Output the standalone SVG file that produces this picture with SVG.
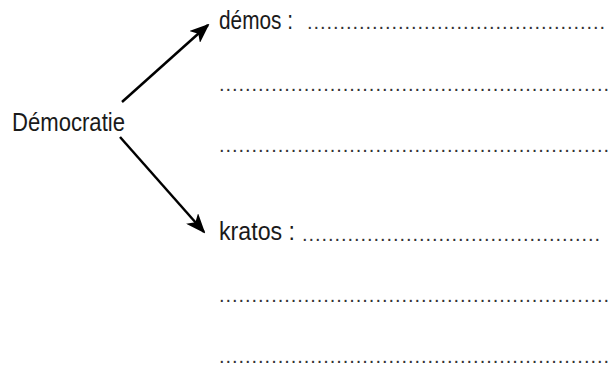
<svg xmlns="http://www.w3.org/2000/svg" width="616" height="367" viewBox="0 0 616 367">
<defs>
<style>
text{font-family:"Liberation Sans",Arial,sans-serif;font-size:26px;fill:#1a1a1a}
.dots{font-size:20px;fill:#333}
.conn line{stroke:#000;stroke-width:2.5}
</style>
<marker id="ah" viewBox="0 0 20 16" refX="18" refY="8" markerWidth="20" markerHeight="16" markerUnits="userSpaceOnUse" orient="auto">
<path d="M0,0 L20,8 L0,16 L5,8 z" fill="#000"/>
</marker>
</defs>
<rect width="616" height="367" fill="#fff"/>
<g id="connectors" class="conn">
<line x1="122" y1="102" x2="208" y2="25" marker-end="url(#ah)"/>
<line x1="120" y1="137" x2="204" y2="232" marker-end="url(#ah)"/>
</g>
<g id="democratie"><text x="12" y="131" textLength="113" lengthAdjust="spacingAndGlyphs">Démocratie</text></g>
<g id="demos">
<text x="219" y="29" textLength="74" lengthAdjust="spacingAndGlyphs">démos :</text>
<text class="dots" x="307" y="29" textLength="298" lengthAdjust="spacing">..............................................</text>
<text class="dots" x="219" y="91" textLength="390" lengthAdjust="spacing">............................................................</text>
<text class="dots" x="219" y="152" textLength="390" lengthAdjust="spacing">............................................................</text>
</g>
<g id="kratos">
<text x="219" y="240" textLength="76" lengthAdjust="spacingAndGlyphs">kratos :</text>
<text class="dots" x="302" y="241" textLength="298" lengthAdjust="spacing">..............................................</text>
<text class="dots" x="219" y="302" textLength="390" lengthAdjust="spacing">............................................................</text>
<text class="dots" x="219" y="363" textLength="390" lengthAdjust="spacing">............................................................</text>
</g>
</svg>
